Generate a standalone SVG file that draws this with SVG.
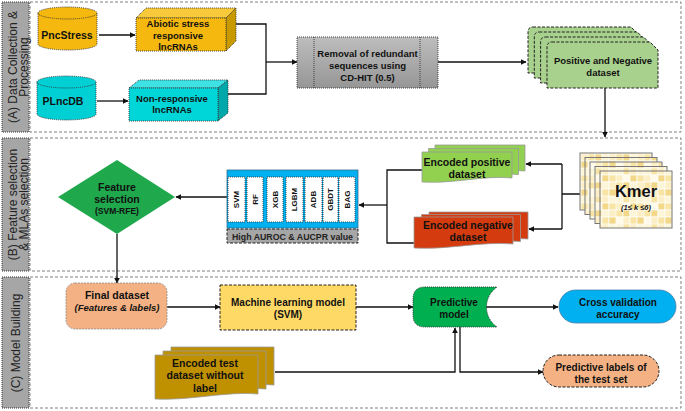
<svg xmlns="http://www.w3.org/2000/svg" width="685" height="411" viewBox="0 0 685 411">
<defs>
<style>
text{font-family:"Liberation Sans",Arial,sans-serif;font-weight:bold;fill:#111;text-anchor:middle}
.sec{fill:none;stroke:#808080;stroke-width:1;stroke-dasharray:3 2}
.bar{fill:#a6a6a6;stroke:#333;stroke-width:1;stroke-dasharray:1 1}
.lbl{font-weight:normal;font-size:12px;fill:#222}
.dot{stroke:#333;stroke-width:0.9;stroke-dasharray:1 1}
.dash{stroke:#222;stroke-width:1;stroke-dasharray:3 1.5}
.t10{font-size:10px}
.t9{font-size:9.5px}
.col{fill:#fff;stroke:#222;stroke-width:0.8;stroke-dasharray:1 1}
.ctext{font-size:8px}
.line{fill:none;stroke:#111;stroke-width:1.3}
.kmer{fill:url(#chk);stroke:#777;stroke-width:1}
</style>
<marker id="ah" viewBox="0 0 10 10" refX="9" refY="5" markerWidth="6" markerHeight="6" orient="auto" markerUnits="userSpaceOnUse">
<path d="M0,0 L10,5 L0,10 Z" fill="#111"/>
</marker>
<linearGradient id="grey" x1="0" y1="0" x2="0" y2="1">
<stop offset="0" stop-color="#bdbdbd"/>
<stop offset="1" stop-color="#969696"/>
</linearGradient>
<pattern id="chk" patternUnits="userSpaceOnUse" width="28" height="28">
<rect width="28" height="28" fill="#fff"/>
<g stroke="#fffdf5" stroke-width="0.8">
<rect x="0" y="0" width="7" height="7" fill="#fdf5d8"/><rect x="7" y="0" width="7" height="7" fill="#f8e4a4"/><rect x="14" y="0" width="7" height="7" fill="#fcefc6"/><rect x="21" y="0" width="7" height="7" fill="#fdf5d8"/>
<rect x="0" y="7" width="7" height="7" fill="#fcefc6"/><rect x="7" y="7" width="7" height="7" fill="#fffaea"/><rect x="14" y="7" width="7" height="7" fill="#f3d88a"/><rect x="21" y="7" width="7" height="7" fill="#f8e4a4"/>
<rect x="0" y="14" width="7" height="7" fill="#f8e4a4"/><rect x="7" y="14" width="7" height="7" fill="#f3d88a"/><rect x="14" y="14" width="7" height="7" fill="#fdf5d8"/><rect x="21" y="14" width="7" height="7" fill="#fcefc6"/>
<rect x="0" y="21" width="7" height="7" fill="#fffaea"/><rect x="7" y="21" width="7" height="7" fill="#fcefc6"/><rect x="14" y="21" width="7" height="7" fill="#f8e4a4"/><rect x="21" y="21" width="7" height="7" fill="#f3d88a"/>
</g>
</pattern>
</defs>

<g id="sections">
<rect class="sec" x="30" y="2" width="651" height="130"/>
<rect class="sec" x="30" y="138" width="651" height="133"/>
<rect class="sec" x="30" y="277" width="651" height="131"/>
<rect class="bar" x="2" y="2" width="27" height="130"/>
<rect class="bar" x="2" y="138" width="27" height="133"/>
<rect class="bar" x="2" y="277" width="27" height="131"/>
<text class="lbl" transform="translate(0,67) rotate(-90)" y="17">(A) Data Collection &amp;</text>
<text class="lbl" transform="translate(0,67) rotate(-90)" y="28">Processing</text>
<text class="lbl" transform="translate(0,204.5) rotate(-90)" y="17">(B) Feature selection</text>
<text class="lbl" transform="translate(0,204.5) rotate(-90)" y="28">&amp; MLAs selection</text>
<text class="lbl" transform="translate(0,343) rotate(-90)" y="20">(C) Model Building</text>
</g>

<g id="connectors">
<line class="line" x1="99" y1="35" x2="135" y2="35" marker-end="url(#ah)"/>
<line class="line" x1="97" y1="101" x2="128" y2="101" marker-end="url(#ah)"/>
<polyline class="line" points="236,24 266,24 266,94 228,94"/>
<line class="line" x1="266" y1="62" x2="297" y2="62" marker-end="url(#ah)"/>
<line class="line" x1="438" y1="62" x2="526" y2="62" marker-end="url(#ah)"/>
<line class="line" x1="605" y1="88" x2="605" y2="137" marker-end="url(#ah)"/>
<polyline class="line" points="597,194 562,194"/>
<line class="line" x1="562" y1="164" x2="562" y2="229"/>
<line class="line" x1="562" y1="164" x2="526" y2="164" marker-end="url(#ah)"/>
<line class="line" x1="562" y1="229" x2="529" y2="229" marker-end="url(#ah)"/>
<polyline class="line" points="422,170 387,170 387,243 414,243"/>
<line class="line" x1="387" y1="205" x2="359" y2="205" marker-end="url(#ah)"/>
<line class="line" x1="227" y1="197" x2="176" y2="197" marker-end="url(#ah)"/>
<line class="line" x1="117" y1="234" x2="117" y2="283" marker-end="url(#ah)"/>
<line class="line" x1="167" y1="307" x2="220" y2="307" marker-end="url(#ah)"/>
<line class="line" x1="356" y1="307" x2="413" y2="307" marker-end="url(#ah)"/>
<line class="line" x1="486" y1="307" x2="558" y2="307" marker-end="url(#ah)"/>
<polyline class="line" points="275,372 455,372 455,328" marker-end="url(#ah)"/>
<polyline class="line" points="460,327 460,372 543,372" marker-end="url(#ah)"/>
</g>

<g id="pncstress">
<path d="M38 13 A29.5 6 0 0 1 97 13 V44 A29.5 6 0 0 1 38 44 Z" fill="#f5b80f" class="dot"/>
<path d="M38 13 A29.5 6 0 0 0 97 13" fill="none" class="dot"/>
<text class="t10" x="67" y="38.5" style="font-size:10.5px">PncStress</text>
</g>

<g id="plncdb">
<path d="M37 82 A29.5 6 0 0 1 96 82 V114 A29.5 6 0 0 1 37 114 Z" fill="#00d0d4" class="dot"/>
<path d="M37 82 A29.5 6 0 0 0 96 82" fill="none" class="dot"/>
<text x="63" y="104.5" style="font-size:10.5px">PLncDB</text>
</g>

<g id="abiotic">
<polygon points="136,18 146,8 236,8 226,18" fill="#f8c93a" class="dot"/>
<polygon points="226,18 236,8 236,41 226,51" fill="#c89a00" class="dot"/>
<rect x="136" y="18" width="90" height="33" fill="#f5b80f" class="dot"/>
<text class="t9" x="178" y="27">Abiotic stress</text>
<text class="t9" x="178" y="38.5">responsive</text>
<text class="t9" x="178" y="50">lncRNAs</text>
</g>

<g id="nonresponsive">
<polygon points="129,88 139,80 228,80 218,88" fill="#3fe2e4" class="dot"/>
<polygon points="218,88 228,80 228,113 218,121" fill="#00a8aa" class="dot"/>
<rect x="129" y="88" width="89" height="33" fill="#00d6d8" class="dot"/>
<text class="t9" x="172" y="101.5">Non-responsive</text>
<text class="t9" x="172" y="113">lncRNAs</text>
</g>

<g id="removal">
<rect x="297" y="37" width="141" height="51" fill="url(#grey)" class="dot"/>
<line x1="314" y1="37" x2="314" y2="88" class="dot"/>
<line x1="420" y1="37" x2="420" y2="88" class="dot"/>
<text class="t9" x="367.5" y="56.5">Removal of redundant</text>
<text class="t9" x="367.5" y="68.5">sequences using</text>
<text class="t9" x="367.5" y="80.5">CD-HIT (0.5)</text>
</g>

<g id="posneg" fill="#a9d18e" stroke="#222" stroke-width="1" stroke-dasharray="3 1.5">
<path d="M533 27 H631 L639 35 V73 H528 V32 Q528 27 533 27 Z"/>
<path d="M539.3 32 H637.3 L645.3 40 V78 H534.3 V37 Q534.3 32 539.3 32 Z"/>
<path d="M545.6 37 H643.6 L651.6 45 V83 H540.6 V42 Q540.6 37 545.6 37 Z"/>
<path d="M552 42 H650 L658 50 V88 H547 V47 Q547 42 552 42 Z"/>
<text class="t9" x="603" y="63.5" stroke="none">Positive and Negative</text>
<text class="t9" x="603" y="75.5" stroke="none">dataset</text>
</g>

<g id="kmer">
<rect class="kmer" x="580" y="153" width="72" height="57"/>
<rect class="kmer" x="585" y="157.5" width="72" height="57"/>
<rect class="kmer" x="590" y="162" width="72" height="57"/>
<rect class="kmer" x="595" y="166.5" width="72" height="57"/>
<rect class="kmer" x="600" y="171" width="72" height="57"/>
<text x="636" y="197" style="font-size:16.5px">Kmer</text>
<text x="636" y="209.5" style="font-size:7.5px;font-style:italic">(1≤ k ≤6)</text>
</g>

<g id="encpos" fill="#92d050" stroke="#9a9a9a" stroke-width="0.8">
<path d="M435 145 H525 V171 C498 168 466 177 435 175 Z"/>
<path d="M428.5 148.5 H518.5 V174.5 C491 171.5 460 180.5 428.5 178.5 Z"/>
<path d="M422 152 H512 V178 C485 175 453 184 422 182 Z"/>
<text x="467" y="165.5" stroke="none" style="font-size:10.5px">Encoded positive</text>
<text x="467" y="177.5" stroke="none" style="font-size:10.5px">dataset</text>
</g>

<g id="encneg" fill="#d43b0e" stroke="#9a9a9a" stroke-width="0.8">
<path d="M429 212 H528 V239 C498 236 463 245 429 243 Z"/>
<path d="M421.5 214.5 H520.5 V241.5 C490.5 238.5 455.5 247.5 421.5 245.5 Z"/>
<path d="M414 217 H513 V244 C483 241 448 250 414 248 Z"/>
<text x="468" y="228.5" stroke="none" style="font-size:10.5px">Encoded negative</text>
<text x="468" y="240.5" stroke="none" style="font-size:10.5px">dataset</text>
</g>

<g id="mlas">
<rect x="227" y="170" width="131" height="58" fill="#00b0f0" stroke="#3a6d8c" stroke-width="0.8"/>
<rect class="col" x="228" y="177" width="17" height="45"/>
<rect class="col" x="247" y="177" width="16" height="45"/>
<rect class="col" x="267" y="177" width="16" height="45"/>
<rect class="col" x="286" y="177" width="17" height="45"/>
<rect class="col" x="305" y="177" width="17" height="45"/>
<rect class="col" x="323" y="177" width="15" height="45"/>
<rect class="col" x="339" y="177" width="16" height="45"/>
<text class="ctext" transform="translate(236.5,199.5) rotate(-90)" y="2.9">SVM</text>
<text class="ctext" transform="translate(255,199.5) rotate(-90)" y="2.9">RF</text>
<text class="ctext" transform="translate(275,199.5) rotate(-90)" y="2.9">XGB</text>
<text class="ctext" transform="translate(294.5,199.5) rotate(-90)" y="2.9">LGBM</text>
<text class="ctext" transform="translate(313.5,199.5) rotate(-90)" y="2.9">ADB</text>
<text class="ctext" transform="translate(330.5,199.5) rotate(-90)" y="2.9">GBDT</text>
<text class="ctext" transform="translate(347,199.5) rotate(-90)" y="2.9">BAG</text>
<rect x="227" y="229" width="131" height="14" fill="#a6a6a6" class="dash"/>
<text x="292.5" y="239.5" style="font-size:8.8px;fill:#222">High  AUROC &amp; AUCPR value</text>
</g>

<g id="featsel">
<polygon points="117,160 175,197 117,234 58,197" fill="#1fa84c"/>
<text x="117" y="191" style="font-size:10.5px">Feature</text>
<text x="117" y="202.5" style="font-size:10.5px">selection</text>
<text x="117" y="213.5" style="font-size:8.5px">(SVM-RFE)</text>
</g>

<g id="finaldataset">
<rect x="66" y="283" width="101" height="46" rx="9" fill="#f4b183" stroke="#8a8a8a" stroke-width="0.8" stroke-dasharray="2 1"/>
<text class="t10" x="117" y="298.5" style="font-size:10.5px">Final dataset</text>
<text x="117" y="310.5" style="font-size:9.5px;font-style:italic">(Features &amp; labels)</text>
</g>

<g id="mlmodel">
<rect x="220" y="285" width="136" height="45" fill="#ffd966" class="dash"/>
<text class="t10" x="288" y="305.5">Machine learning model</text>
<text class="t10" x="288" y="317.5">(SVM)</text>
</g>

<g id="predmodel">
<path d="M425 287 H497 C483 297 483 317 497 327 H425 Q413 327 413 315 V299 Q413 287 425 287 Z" fill="#00b050" class="dot"/>
<text class="t10" x="454" y="305.5">Predictive</text>
<text class="t10" x="454" y="317.5">model</text>
</g>

<g id="crossval">
<rect x="559" y="290" width="117" height="33" rx="16.5" fill="#00b0f0" stroke="#4a7fa8" stroke-width="0.8"/>
<text class="t10" x="618" y="305.5">Cross validation</text>
<text class="t10" x="618" y="317.5">accuracy</text>
</g>

<g id="predlabels">
<rect x="543" y="355" width="116" height="32" rx="16" fill="#f4b183" class="dash"/>
<text class="t10" x="601" y="370.5">Predictive labels of</text>
<text class="t10" x="601" y="382.5">the test set</text>
</g>

<g id="enctest" fill="#bf9000" stroke="#9a9a9a" stroke-width="0.8">
<path d="M171 347 H274 V385 C243 382 204 391 171 389 Z"/>
<path d="M163 351 H266 V389 C235 386 196 395 163 393 Z"/>
<path d="M155 355 H258 V394 C227 391 188 401 155 399 Z"/>
<text x="205" y="366.5" stroke="none" style="font-size:10.5px">Encoded test</text>
<text x="205" y="379" stroke="none" style="font-size:10.5px">dataset without</text>
<text x="205" y="391.5" stroke="none" style="font-size:10.5px">label</text>
</g>
</svg>
